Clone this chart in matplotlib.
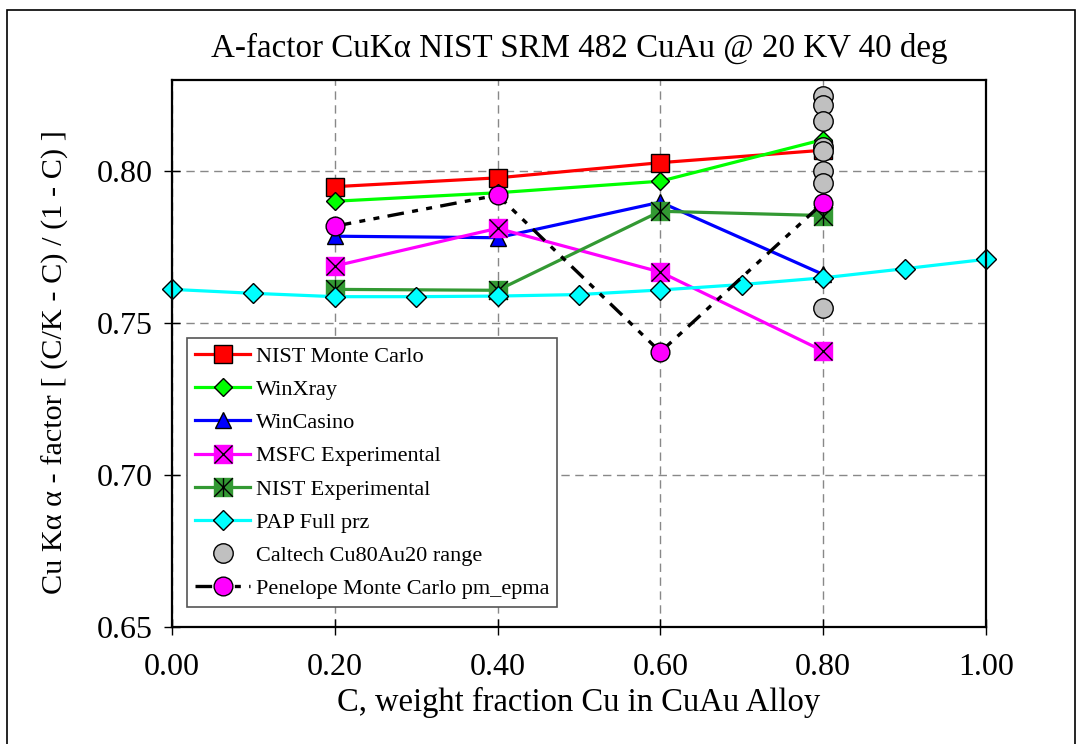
import matplotlib
matplotlib.use("Agg")
import matplotlib.pyplot as plt
from matplotlib.path import Path
from matplotlib.patches import Rectangle

plt.rcParams['font.family'] = ['Liberation Serif', 'DejaVu Serif']

# ---- data ----
x4 = [0.2, 0.4, 0.6, 0.8]
nist_mc = [0.7949, 0.7978, 0.8028, 0.8069]
winxray = [0.7901, 0.7929, 0.7967, 0.8104]
wincasino = [0.7786, 0.7781, 0.7898, 0.7660]
msfc_exp = [0.7688, 0.7812, 0.7668, 0.7408]
nist_exp = [0.7611, 0.7608, 0.7868, 0.7854]
pap_x = [0.0, 0.1, 0.2, 0.3, 0.4, 0.5, 0.6, 0.7, 0.8, 0.9, 1.0]
pap = [0.7611, 0.7598, 0.7587, 0.7587, 0.7589, 0.7594, 0.7609, 0.7627, 0.7649, 0.7679, 0.7710]
caltech_x = [0.8, 0.8, 0.8, 0.8, 0.8, 0.8, 0.8, 0.8]
caltech = [0.8247, 0.8219, 0.8164, 0.8080, 0.8066, 0.8000, 0.7962, 0.7551]
penelope = [0.7819, 0.7921, 0.7405, 0.7896]

W, H = 1079, 744
fig = plt.figure(figsize=(W / 100, H / 100), dpi=100)
ax = fig.add_axes([172 / W, (H - 627) / H, 814 / W, 547 / H])

# outer frame around the whole picture
fig.patches.append(Rectangle((7 / W, -0.05), (1075 - 7) / W, (H - 10) / H + 0.05,
                             transform=fig.transFigure, fill=False,
                             edgecolor='black', linewidth=1.2))

lw = 2.3
ms_sq = 13.5
mec = 'black'
mew = 1.0

# square with asterisk (X plus vertical bar)
star_path = Path([(-1, -1), (1, 1), (-1, 1), (1, -1), (0, -1), (0, 1)],
                 [Path.MOVETO, Path.LINETO, Path.MOVETO, Path.LINETO, Path.MOVETO, Path.LINETO])

h_mc, = ax.plot(x4, nist_mc, color='#ff0000', lw=lw, marker='s', ms=ms_sq,
                mfc='#ff0000', mec=mec, mew=mew, clip_on=False)
h_wx, = ax.plot(x4, winxray, color='#00ff00', lw=lw, marker='D', ms=9.5,
                mfc='#00ff00', mec=mec, mew=mew, clip_on=False)
h_wc, = ax.plot(x4, wincasino, color='#0000ff', lw=lw, marker='^', ms=12,
                mfc='#0000ff', mec=mec, mew=mew, clip_on=False)
h_ms, = ax.plot(x4, msfc_exp, color='#ff00ff', lw=lw, marker='s', ms=ms_sq,
                mfc='#ff00ff', mec='#ff00ff', mew=mew, clip_on=False)
h_msx, = ax.plot(x4, msfc_exp, ls='none', marker='x', ms=ms_sq, mec='black', mew=1.0, clip_on=False)
h_ne, = ax.plot(x4, nist_exp, color='#339933', lw=lw, marker='s', ms=ms_sq,
                mfc='#339933', mec='#339933', mew=mew, clip_on=False)
h_nex, = ax.plot(x4, nist_exp, ls='none', marker=star_path, ms=ms_sq, mec='black', mew=1.0, clip_on=False)
h_pap, = ax.plot(pap_x, pap, color='#00ffff', lw=lw, marker='D', ms=10,
                 mfc='#00ffff', mec=mec, mew=mew, clip_on=False)
h_ct, = ax.plot(caltech_x, caltech, ls='none', marker='o', ms=14,
                mfc='#c0c0c0', mec=mec, mew=mew, clip_on=False)
h_pen, = ax.plot(x4, penelope, color='black', lw=2.4, ls=(0, (5, 2.5, 1.8, 2.5, 1.8, 2.5)),
                 marker='o', ms=13.5, mfc='#ff00ff', mec=mec, mew=mew, clip_on=False)

ax.set_xlim(0, 1.0)
ax.set_ylim(0.65, 0.83)
ax.set_xticks([0.0, 0.2, 0.4, 0.6, 0.8, 1.0])
ax.set_xticklabels(['0.00', '0.20', '0.40', '0.60', '0.80', '1.00'])
ax.set_yticks([0.65, 0.70, 0.75, 0.80])
ax.set_yticklabels(['0.65', '0.70', '0.75', '0.80'])
ax.tick_params(direction='inout', length=11, width=1.0, labelsize=23)
ax.tick_params(axis='x', pad=13)
ax.tick_params(axis='y', pad=8)
ax.grid(True, color='#888888', ls=(0, (6, 4)), lw=1.0)
ax.set_axisbelow(True)
for s in ax.spines.values():
    s.set_linewidth(1.6)

ax.set_title('A-factor CuKα NIST SRM 482 CuAu @ 20 KV 40 deg', fontsize=23.8, pad=17)
ax.set_xlabel('C, weight fraction Cu in CuAu Alloy', fontsize=23.5, labelpad=4)
ax.set_ylabel('Cu Kα α - factor [ (C/K - C) / (1 - C) ]', fontsize=21.8, labelpad=20)
ax.yaxis.label.set_y(0.485)

leg = ax.legend([h_mc, h_wx, h_wc, (h_ms, h_msx), (h_ne, h_nex), h_pap, h_ct, h_pen],
                ['NIST Monte Carlo', 'WinXray', 'WinCasino', 'MSFC Experimental',
                 'NIST Experimental', 'PAP Full prz', 'Caltech Cu80Au20 range',
                 'Penelope Monte Carlo pm_epma'],
                loc='lower left', bbox_to_anchor=(0.0184, 0.0366), borderaxespad=0,
                fontsize=16, fancybox=False, framealpha=1, edgecolor='#555555',
                handlelength=2.5, handletextpad=0.25, labelspacing=0.57, borderpad=0.35,
                numpoints=1)
leg.get_frame().set_linewidth(1.2)

fig.savefig('out.png', dpi=100)
